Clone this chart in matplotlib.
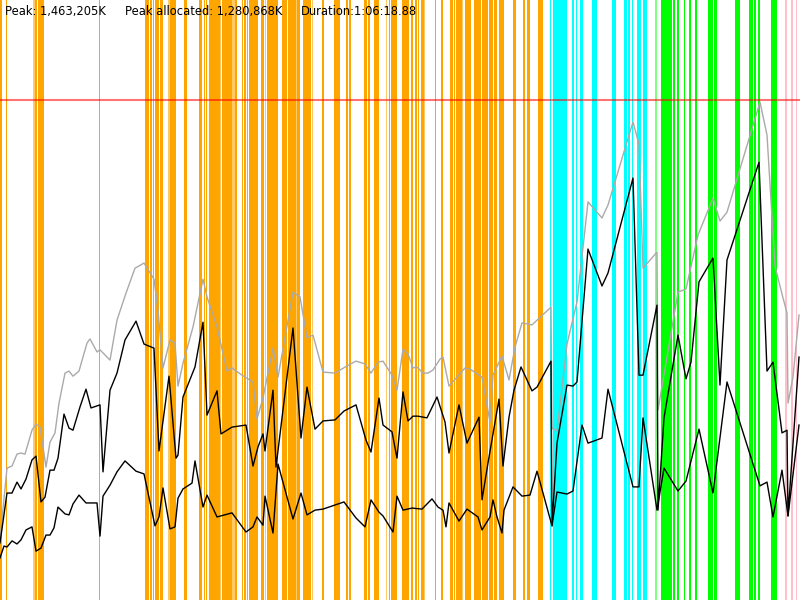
import matplotlib
matplotlib.use("Agg")
import matplotlib.pyplot as plt

# memory profile, values in MB, time in sample units (0..800)
peak = 1463.205
peak_alloc = 1280.868
duration = "1:06:18.88"

t_total = [0, 7, 12, 17, 21, 25, 32, 36, 40, 46, 50, 55, 59, 65, 69, 73, 79, 87, 90, 97,
           100, 110, 117, 126, 135, 144, 154, 158, 163, 170, 175, 178, 183, 193, 203, 207,
           217, 227, 232, 242, 253, 257, 263, 273, 278, 293, 300, 307, 313, 323, 335, 347,
           356, 365, 371, 378, 383, 392, 397, 403, 408, 413, 417, 423, 428, 433, 440, 443,
           449, 457, 465, 470, 482, 490, 493, 502, 509, 515, 522, 532, 551, 552, 557, 567,
           577, 588, 602, 608, 633, 639, 643, 657, 658, 678, 686, 698, 713, 720, 727, 760,
           767, 775, 783, 787, 788, 793, 799]
total = [176, 386, 392, 427, 430, 427, 497, 515, 506, 389, 462, 489, 576, 664, 670, 655, 670,
         752, 764, 726, 732, 702, 819, 898, 971, 986, 939, 849, 679, 761, 752, 626, 693, 799,
         939, 887, 799, 670, 679, 658, 638, 530, 591, 737, 652, 901, 887, 767, 775, 667, 664,
         685, 699, 691, 664, 696, 699, 658, 614, 734, 720, 679, 682, 664, 664, 673, 705, 711,
         626, 652, 679, 676, 652, 521, 658, 714, 644, 740, 811, 805, 857, 503, 495, 749, 872,
         1165, 1118, 1156, 1399, 1334, 971, 1018, 556, 901, 910, 1068, 1176, 1109, 1135, 1457,
         1361, 977, 884, 840, 576, 652, 834]

t_used = [0, 7, 12, 17, 21, 26, 32, 36, 41, 45, 50, 54, 58, 64, 69, 73, 80, 86, 91, 100,
          103, 110, 117, 125, 136, 144, 154, 159, 169, 176, 178, 183, 195, 203, 207, 217,
          221, 232, 246, 253, 258, 263, 265, 273, 276, 293, 301, 307, 315, 323, 335, 344,
          356, 366, 371, 379, 383, 392, 397, 403, 408, 413, 418, 427, 437, 445, 449, 459,
          467, 479, 482, 488, 493, 499, 503, 509, 514, 521, 532, 537, 551, 552, 557, 567,
          573, 577, 588, 602, 608, 633, 639, 643, 657, 658, 664, 678, 686, 691, 699, 713,
          720, 727, 759, 767, 773, 782, 787, 788, 799]
used = [167, 313, 313, 345, 325, 354, 410, 421, 287, 301, 380, 380, 415, 544, 503, 497, 565,
        617, 562, 571, 375, 614, 664, 761, 816, 749, 737, 436, 655, 415, 424, 594, 682, 813,
        541, 612, 486, 506, 512, 392, 448, 486, 436, 614, 389, 796, 474, 623, 500, 524, 527,
        553, 571, 468, 433, 591, 512, 492, 415, 609, 524, 538, 538, 533, 594, 521, 430, 571,
        459, 535, 293, 401, 486, 588, 392, 535, 614, 682, 612, 623, 699, 217, 459, 629, 626,
        638, 1027, 919, 957, 1235, 658, 658, 863, 263, 533, 775, 647, 696, 931, 1001, 629,
        995, 1281, 670, 696, 489, 497, 246, 711]

t_live = [0, 4, 7, 12, 17, 21, 26, 32, 36, 41, 46, 50, 54, 58, 65, 69, 73, 79, 86, 97,
          100, 103, 110, 117, 125, 136, 144, 155, 159, 163, 170, 175, 178, 183, 192, 195,
          203, 207, 217, 232, 246, 253, 257, 263, 265, 273, 278, 293, 301, 307, 315, 323,
          344, 356, 365, 371, 379, 383, 393, 397, 403, 412, 422, 432, 438, 443, 446, 449,
          459, 467, 478, 482, 490, 493, 497, 502, 504, 513, 522, 530, 537, 552, 557, 567,
          573, 582, 588, 602, 608, 633, 639, 643, 657, 664, 678, 686, 699, 713, 727, 760,
          767, 773, 782, 788, 799]
live = [123, 158, 155, 173, 164, 176, 205, 214, 143, 152, 190, 190, 211, 272, 252, 249, 281,
        307, 284, 284, 187, 304, 336, 375, 407, 377, 369, 217, 243, 328, 208, 214, 298, 325,
        342, 407, 272, 307, 243, 255, 199, 214, 243, 219, 304, 196, 398, 237, 313, 249, 263,
        266, 287, 240, 214, 293, 257, 246, 199, 304, 263, 269, 266, 296, 272, 263, 214, 284,
        231, 266, 243, 205, 243, 293, 243, 196, 263, 331, 304, 307, 377, 217, 316, 310, 319,
        512, 459, 474, 617, 331, 331, 533, 263, 386, 319, 348, 500, 313, 638, 334, 345, 243,
        380, 246, 512]

# collection phases (start, end)
orange_spans = [(0, 2), (6, 7), (35, 37), (38, 44), (99, 100), (145, 149), (150, 152),
                (153, 154), (155, 159), (160, 163), (170, 176), (184, 187), (199, 202),
                (204, 205), (206, 207), (209, 220), (222, 232), (235, 237), (242, 243),
                (244, 246), (247, 248), (249, 258), (261, 264), (267, 278), (282, 287),
                (288, 296), (297, 300), (303, 311), (322, 324), (334, 340), (346, 348),
                (349, 351), (364, 367), (368, 370), (374, 379), (389, 390), (391, 397),
                (402, 409), (411, 413), (415, 417), (417.5, 418.5), (421, 424), (435, 436),
                (441, 443), (450, 453), (454, 455), (456, 462), (465, 471), (474, 481),
                (482, 488), (489, 493), (494, 497), (499, 504), (513, 516), (523, 525),
                (527, 530), (538, 543)]
orange_light = [(33, 35), (168, 170), (220, 221), (232, 235), (265, 266), (296, 297),
                (312, 313), (386, 387), (418.5, 419), (424, 425), (462, 463)]
cyan_spans = [(550, 551), (553, 567), (572, 574), (576, 577), (580, 583), (592, 597),
              (612, 616), (624, 627), (628, 630), (632, 633), (637, 641), (643, 647)]
green_spans = [(661, 672), (673, 675), (677, 679), (684, 685), (689, 691), (695, 697),
               (708, 713), (714, 717), (735, 740), (749, 753), (754, 756), (758, 760),
               (771, 777)]
green_light = [(655, 657)]
pink_spans = [(785, 787), (791, 793), (796, 797)]

fig = plt.figure(figsize=(8, 6), dpi=100)
ax = fig.add_axes([0, 0, 1, 1])
ax.set_xlim(0, 800)
ax.set_ylim(0, peak * 600 / 500)
ax.axis('off')

def spans(lst, color, alpha=1.0):
    for s, e in lst:
        ax.axvspan(s, e, color=color, alpha=alpha, lw=0, antialiased=False)

spans(orange_spans, '#ffa500')
spans(orange_light, '#ffa500', 0.6)
spans(cyan_spans, '#00ffff')
spans(green_spans, '#00ff00')
spans(green_light, '#00ff00', 0.5)
spans(pink_spans, '#ffc0cb')

ax.plot(t_total, total, color='#aaaaaa', lw=1.0)
ax.plot(t_used, used, color='black', lw=1.0)
ax.plot(t_live, live, color='black', lw=1.0)

ax.axhline(peak, color='red', alpha=0.55, lw=1.5)

ty = 1 - 5 / 600
ax.text(5 / 800, ty, "Peak: {:,}K".format(int(peak * 1000)), transform=ax.transAxes,
        fontsize=8.3, va='top', ha='left')
ax.text(125 / 800, ty, "Peak allocated: {:,}K".format(int(peak_alloc * 1000)),
        transform=ax.transAxes, fontsize=8.3, va='top', ha='left')
ax.text(301 / 800, ty, "Duration:" + duration, transform=ax.transAxes,
        fontsize=8.3, va='top', ha='left')

fig.savefig('out.png', dpi=100)
